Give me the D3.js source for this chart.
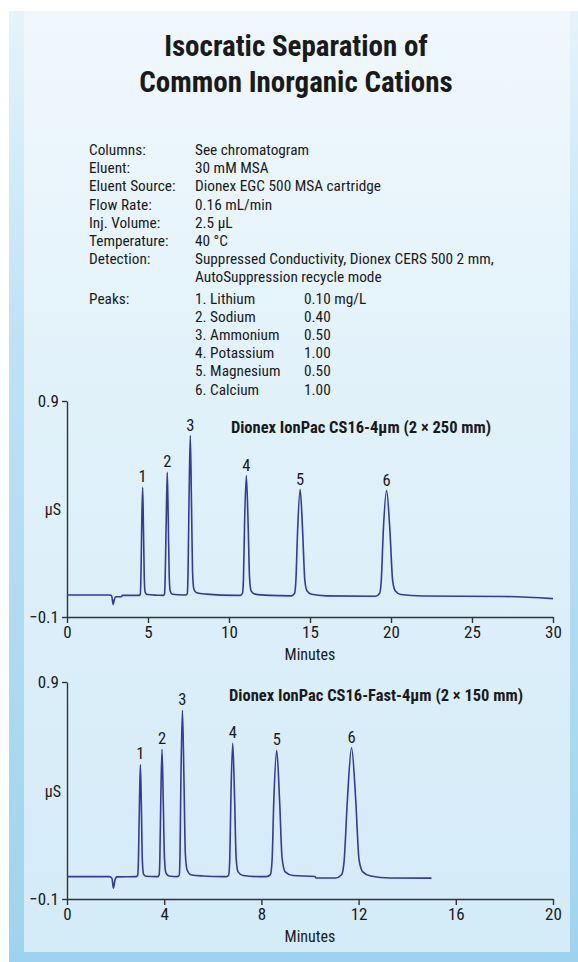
<!DOCTYPE html>
<html>
<head>
<meta charset="utf-8">
<script src="https://cdn.jsdelivr.net/npm/d3@7"></script>
<style>
  html, body { margin: 0; padding: 0; background: #fff; }
  svg text { font-family: "Liberation Sans Narrow", "Roboto Condensed", "DejaVu Sans Condensed", "Liberation Sans", sans-serif; fill: #1a1a1a; }
</style>
</head>
<body>
<div id="chart"></div>
<script>
// ---- conditions text
var condLabels = ["Columns:", "Eluent:", "Eluent Source:", "Flow Rate:", "Inj. Volume:", "Temperature:", "Detection:", ""];
var condValues = ["See chromatogram", "30 mM MSA", "Dionex EGC 500 MSA cartridge", "0.16 mL/min", "2.5 µL", "40 °C",
                  "Suppressed Conductivity, Dionex CERS 500 2 mm,", "AutoSuppression recycle mode"];
var peakNames = ["1. Lithium", "2. Sodium", "3. Ammonium", "4. Potassium", "5. Magnesium", "6. Calcium"];
var peakConc = ["0.10 mg/L", "0.40", "0.50", "1.00", "0.50", "1.00"];

// ---- chromatogram A: CS16-4um (2 x 250 mm)
var peakLabels = ["1", "2", "3", "4", "5", "6"];
var peakTimesA = [4.67, 6.19, 7.61, 11.07, 14.39, 19.73];
var peakHeightsA = [0.50, 0.57, 0.74, 0.555, 0.49, 0.485];
var ticksA = [0, 5, 10, 15, 20, 25, 30];
var traceA = [
  [0, 0.002], [2.6, 0.002], [2.75, 0.0], [2.85, -0.042], [2.92, -0.02], [3.0, -0.006], [3.35, -0.006], [3.42, 0.0], [4.45, 0.0],
  [4.52, 0.005], [4.56, 0.07], [4.61, 0.31], [4.67, 0.50], [4.72, 0.31], [4.77, 0.08], [4.82, 0.015], [4.95, 0.004], [5.6, 0.001],
  [5.95, 0.0], [6.02, 0.006], [6.06, 0.08], [6.125, 0.35], [6.19, 0.57], [6.25, 0.35], [6.31, 0.09], [6.37, 0.02], [6.5, 0.005], [7.2, 0.002],
  [7.35, 0.002], [7.43, 0.01], [7.47, 0.10], [7.535, 0.45], [7.61, 0.74], [7.68, 0.45], [7.75, 0.11], [7.83, 0.03], [8.0, 0.012], [8.6, 0.006], [10.4, 0.0],
  [10.70, 0.0], [10.83, 0.01], [10.89, 0.07], [10.96, 0.33], [11.07, 0.555], [11.18, 0.33], [11.27, 0.08], [11.37, 0.02], [11.6, 0.006], [12.5, 0.0],
  [13.85, -0.002], [14.05, 0.01], [14.13, 0.07], [14.23, 0.29], [14.39, 0.49], [14.55, 0.29], [14.68, 0.07], [14.82, 0.02], [15.1, 0.005], [16.0, -0.002],
  [19.05, -0.004], [19.3, 0.01], [19.4, 0.07], [19.52, 0.29], [19.73, 0.485], [19.94, 0.29], [20.1, 0.07], [20.27, 0.02], [20.6, 0.004], [22, -0.003],
  [27, -0.005], [30, -0.015]
];

// ---- chromatogram B: CS16-Fast-4um (2 x 150 mm)
var peakTimesB = [3.02, 3.91, 4.75, 6.82, 8.63, 11.71];
var peakHeightsB = [0.52, 0.59, 0.77, 0.617, 0.585, 0.597];
var ticksB = [0, 4, 8, 12, 16, 20];
var traceB = [
  [0, 0.003], [1.75, 0.003], [1.85, -0.005], [1.91, -0.05], [1.97, -0.015], [2.05, 0.002], [2.85, 0.003],
  [2.91, 0.01], [2.94, 0.08], [2.98, 0.33], [3.02, 0.52], [3.06, 0.33], [3.10, 0.08], [3.15, 0.015], [3.25, 0.005], [3.7, 0.003],
  [3.73, 0.003], [3.79, 0.01], [3.82, 0.08], [3.86, 0.36], [3.91, 0.59], [3.96, 0.36], [4.01, 0.09], [4.07, 0.02], [4.2, 0.006], [4.54, 0.003],
  [4.62, 0.01], [4.65, 0.10], [4.69, 0.47], [4.75, 0.77], [4.81, 0.47], [4.87, 0.11], [4.94, 0.035], [5.1, 0.012], [5.6, 0.006], [6.4, 0.003],
  [6.55, 0.003], [6.65, 0.01], [6.70, 0.09], [6.745, 0.37], [6.82, 0.617], [6.895, 0.37], [6.96, 0.09], [7.04, 0.025], [7.25, 0.008], [7.9, 0.003],
  [8.2, 0.003], [8.37, 0.012], [8.44, 0.08], [8.51, 0.35], [8.63, 0.585], [8.75, 0.35], [8.85, 0.09], [8.98, 0.025], [9.3, 0.008], [10.2, 0.004],
  [10.25, -0.003], [11.05, -0.003], [11.3, 0.012], [11.4, 0.07], [11.54, 0.36], [11.71, 0.597], [11.88, 0.36], [12.02, 0.08], [12.17, 0.025],
  [12.5, 0.006], [13.3, -0.003], [15.0, -0.004]
];

var W = 578, H = 962;
var svg = d3.select("#chart").append("svg")
    .attr("width", W)
    .attr("height", H);

// background panel
var defs = svg.append("defs");
var grad = defs.append("linearGradient").attr("id", "bg").attr("x1", 0).attr("y1", 0).attr("x2", 0).attr("y2", 1);
grad.append("stop").attr("offset", "0%").attr("stop-color", "#f0f8fd");
grad.append("stop").attr("offset", "45%").attr("stop-color", "#e0f1fa");
grad.append("stop").attr("offset", "100%").attr("stop-color", "#d4ebf8");
var edge = defs.append("linearGradient").attr("id", "edge").attr("x1", 0).attr("y1", 0).attr("x2", 0).attr("y2", 1);
edge.append("stop").attr("offset", "0%").attr("stop-color", "#e6f3fb");
edge.append("stop").attr("offset", "35%").attr("stop-color", "#bde2f5");
edge.append("stop").attr("offset", "100%").attr("stop-color", "#9ed3ef");

svg.append("rect").attr("x", 9).attr("y", 11).attr("width", W - 9).attr("height", H - 11).attr("fill", "url(#edge)");
svg.append("rect").attr("x", 24).attr("y", 11).attr("width", 546).attr("height", 941).attr("fill", "url(#bg)");

// title
svg.append("text").attr("x", 296).attr("y", 56).attr("text-anchor", "middle")
    .style("font-size", "29px").style("font-weight", "bold").text("Isocratic Separation of");
svg.append("text").attr("x", 296).attr("y", 92).attr("text-anchor", "middle")
    .style("font-size", "29px").style("font-weight", "bold").text("Common Inorganic Cations");

// conditions
var cond = svg.append("g").style("font-size", "15.3px");
var rowH = 18.2, row0 = 155;
condLabels.forEach(function(d, i) {
    cond.append("text").attr("x", 89).attr("y", row0 + i * rowH).text(d);
    cond.append("text").attr("x", 195).attr("y", row0 + i * rowH).text(condValues[i]);
});
var peakRow0 = row0 + condLabels.length * rowH + 3;
cond.append("text").attr("x", 89).attr("y", peakRow0).text("Peaks:");
peakNames.forEach(function(d, i) {
    cond.append("text").attr("x", 195).attr("y", peakRow0 + i * rowH).text(d);
    cond.append("text").attr("x", 304).attr("y", peakRow0 + i * rowH).text(peakConc[i]);
});

function chromatogram(trace, times, heights, ticks, xMax, top, bottom, title, titleX, titleY) {
    var x = d3.scaleLinear().domain([0, xMax]).range([67, 553]);
    var y = d3.scaleLinear().domain([-0.1, 0.9]).range([bottom, top]);
    var g = svg.append("g");

    var xAxis = g.append("g")
        .attr("transform", "translate(0," + bottom + ")")
        .call(d3.axisBottom(x).tickValues(ticks).tickSize(6).tickSizeOuter(0).tickPadding(3));
    var yAxis = g.append("g")
        .attr("transform", "translate(67,0)")
        .call(d3.axisLeft(y).tickValues([-0.1, 0.9]).tickSize(5).tickSizeOuter(0).tickPadding(3)
            .tickFormat(d3.format(".1f")));
    [xAxis, yAxis].forEach(function(a) {
        a.selectAll("path, line").attr("stroke", "#333").attr("stroke-width", 1.4);
        a.selectAll("text").style("font-size", "17px").attr("fill", "#222")
            .style("font-family", "'Liberation Sans Narrow', 'Roboto Condensed', 'DejaVu Sans Condensed', sans-serif");
    });

    g.append("text").attr("x", 310).attr("y", bottom + 43).attr("text-anchor", "middle")
        .style("font-size", "16px").text("Minutes");
    g.append("text").attr("x", 53).attr("y", y(0.4) + 6).attr("text-anchor", "middle")
        .style("font-size", "16px").text("µS");
    g.append("text").attr("x", titleX).attr("y", titleY).attr("text-anchor", "middle")
        .style("font-size", "16.5px").style("font-weight", "bold").text(title);

    var line = d3.line()
        .x(d => x(d[0]))
        .y(d => y(d[1]))
        .curve(d3.curveMonotoneX);
    g.append("path")
        .datum(trace)
        .attr("d", line)
        .attr("fill", "none")
        .attr("stroke", "#36389a")
        .attr("stroke-width", 1.6)
        .attr("stroke-linejoin", "round");

    g.selectAll(".peak-label")
        .data(times)
        .enter()
        .append("text")
        .attr("class", "peak-label")
        .attr("x", d => x(d))
        .attr("y", (d, i) => y(heights[i]) - 5)
        .attr("text-anchor", "middle")
        .style("font-size", "16.5px")
        .text((d, i) => peakLabels[i]);
}

chromatogram(traceA, peakTimesA, peakHeightsA, ticksA, 30, 401, 617,
    "Dionex IonPac CS16-4µm (2 × 250 mm)", 361, 433);
chromatogram(traceB, peakTimesB, peakHeightsB, ticksB, 20, 682, 899,
    "Dionex IonPac CS16-Fast-4µm (2 × 150 mm)", 376, 701);
</script>
</body>
</html>
